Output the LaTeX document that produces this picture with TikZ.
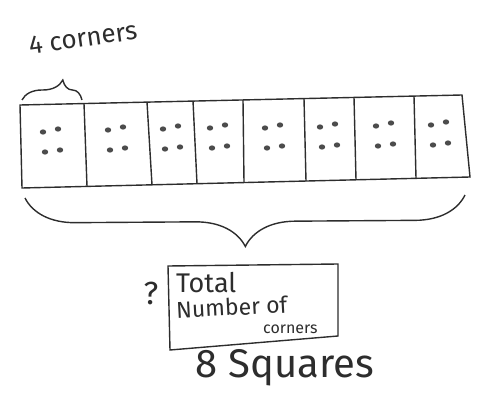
\documentclass[tikz,border=0pt]{standalone}
\usepackage{fontspec}
\setmainfont{Fira Sans}
\usetikzlibrary{decorations.pathreplacing}
\definecolor{pencil}{RGB}{45, 45, 45}

\begin{document}
\begin{tikzpicture}[x=1pt, y=-1pt, line width=1.4pt, draw=pencil, text=pencil,
    corner/.style={fill=pencil!85, draw=none},
    every node/.style={inner sep=0.5pt}]
        \useasboundingbox (0,0) rectangle (486,395);

        % Strip of 8 squares
        \draw (20,105) -- (462,95) -- (470,177) -- (22,188) -- cycle;
        \foreach \xt/\yt/\xb/\yb in {84/103.6/87/186.4, 147/102.1/152/184.8, 193/101.1/197/183.7,
                243/100/244/182.6, 304/98.6/306/181.1, 354/97.4/356/179.9, 414/96.1/416/178.4}
            \draw (\xt,\yt) -- (\xb,\yb);

        % 4 corners in each square
        \foreach \cx/\cy in {52/141, 117/139, 172/138, 219/137, 274/137, 329/136, 385/135, 440/134} {
            \fill[corner] (\cx-9,\cy-9) ellipse (3.2 and 2.6);
            \fill[corner] (\cx+6,\cy-12) ellipse (3.2 and 2.6);
            \fill[corner] (\cx-7,\cy+11) ellipse (3.2 and 2.6);
            \fill[corner] (\cx+8,\cy+9) ellipse (3.2 and 2.6);
        }

        % Brace over the first square
        \draw[decorate, decoration={brace, amplitude=20pt, aspect=0.68}]
            (22,100) -- (82,100) coordinate[pos=0.68] (toptip);
        \node[rotate=8, font=\fontsize{26}{30}\selectfont] (corners) at (83,38) {4 corners};

        % Brace under the whole strip
        \draw[decorate, decoration={brace, amplitude=50pt, aspect=0.5, mirror}]
            (25,198) -- (465,195) coordinate[midway] (bottip);

        % Box with the question
        \draw (168,266) -- (338,264) -- (338,336) -- (170,350) -- cycle;
        \node[font=\fontsize{32}{34}\selectfont] (ask) at (151,293) {?};
        \node[anchor=west, font=\fontsize{27}{30}\selectfont] (total) at (175,283) {Total};
        \node[anchor=west, rotate=3, font=\fontsize{23}{26}\selectfont] (number) at (175,310) {Number of};
        \node[anchor=west, font=\fontsize{16}{18}\selectfont] (small) at (262,329) {corners};
        \node[font=\fontsize{40}{44}\selectfont] (squares) at (285,368) {8 Squares};
\end{tikzpicture}
\end{document}
